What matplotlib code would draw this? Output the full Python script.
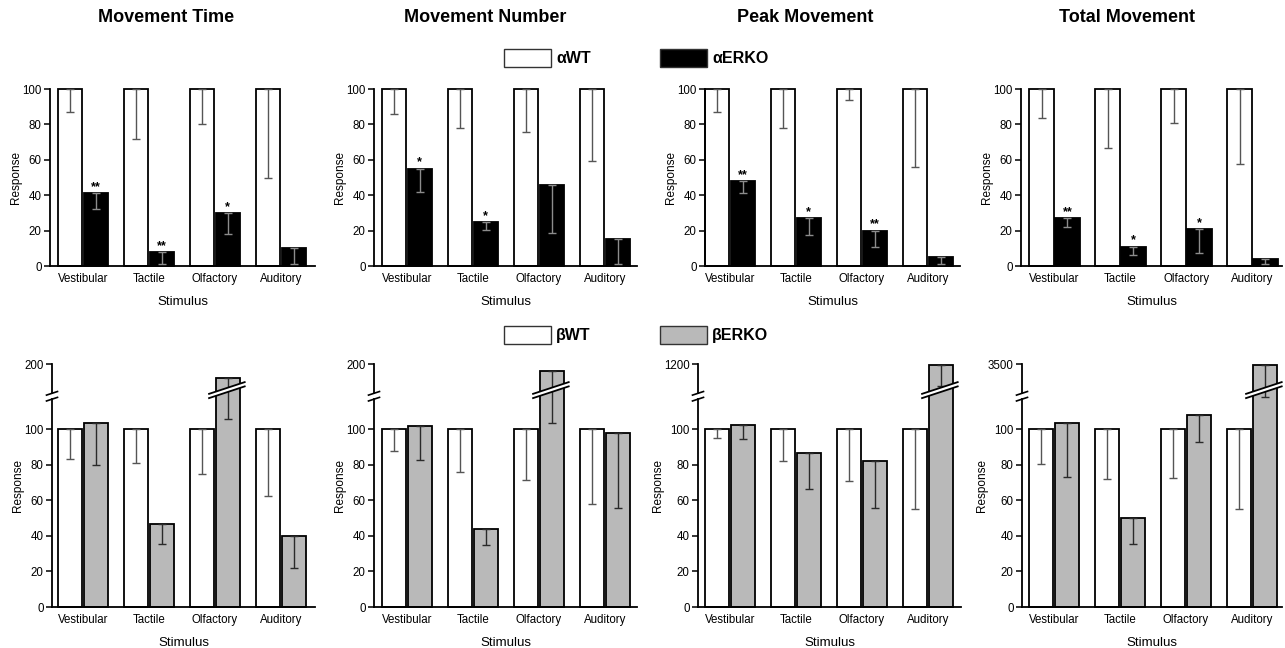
import numpy as np
import matplotlib
matplotlib.use("Agg")
import matplotlib.pyplot as plt
import matplotlib.transforms as mtransforms
from matplotlib.patches import Patch, Polygon

plt.rcParams['font.family'] = ['Liberation Sans', 'DejaVu Sans']

stimuli = ["Vestibular", "Tactile", "Olfactory", "Auditory"]
titles = ["Movement Time", "Movement Number", "Peak Movement", "Total Movement"]
wt_mean = [100, 100, 100, 100]

# alpha (top row): lower end of error bars, ERKO means, significance
a_wt_low = [[87, 71.5, 80.5, 50], [86, 78, 75.7, 59.3],
            [87.2, 78, 93.8, 56], [83.8, 66.9, 80.6, 57.4]]
a_ko = [[41, 8, 30, 10], [55, 25, 46, 15], [48, 27, 20, 5], [27, 11, 21, 4]]
a_ko_low = [[32, 1, 18, 1], [41.6, 20.2, 18.6, 1.1],
            [41.4, 17.7, 10.9, 1], [22.2, 6.2, 7.5, 1]]
a_stars = [["**", "**", "*", ""], ["*", "*", "", ""],
           ["**", "*", "**", ""], ["**", "*", "*", ""]]

# beta (bottom row), broken axis tops
b_wt_low = [[83.5, 81.2, 74.8, 62.4], [87.8, 76.1, 71.4, 57.9],
            [94.9, 82, 71, 54.9], [80.3, 71.8, 72.7, 55.1]]
b_ko = [[103.6, 46.5, 160, 40], [101.9, 43.8, 180, 97.7],
        [102.4, 86.8, 82.3, 1170], [103.8, 50.2, 108.1, 3400]]
b_ko_low = [[79.9, 35.7, 105.8, 22], [82.7, 34.8, 103.8, 55.8],
            [94.4, 66.2, 55.8, 370], [73.3, 35.7, 93, 118]]
b_top = [200, 200, 1200, 3500]

W, H = 1285, 648
fig = plt.figure(figsize=(W / 100, H / 100), dpi=100)

# pixel layout: spine left, axis right, first group centre
top_left = [50, 374, 705, 1021]
top_right = [315, 637, 960, 1282]
top_c0 = [83, 407, 730, 1054.5]
bot_left = [52, 374, 698, 1022]
bot_right = [315, 637, 961, 1282]
bot_c0 = [83, 407, 730, 1054]
spacing = 66.0

BRK = 121.0   # break start (display units)
TOPD = 136.8  # display units at top of broken axis

gray = '#b9b9b9'
bw = 0.37
off = 0.195
x = np.arange(4)


def make_axes(left, right, c0, y0, y1):
    ax = fig.add_axes([left / W, 1 - y0 / H, (right - left) / W, (y0 - y1) / H])
    ax.set_xlim((left - c0) / spacing, (right - c0) / spacing)
    for s in ['top', 'right']:
        ax.spines[s].set_visible(False)
    ax.spines['left'].set_linewidth(1.3)
    ax.spines['bottom'].set_linewidth(1.3)
    ax.set_xticks(x)
    ax.set_xticklabels(stimuli, fontsize=8.3)
    ax.tick_params(axis='x', length=0, pad=5)
    ax.tick_params(axis='y', length=4, width=1.1, labelsize=8.3, pad=2)
    ax.set_xlabel("Stimulus", fontsize=9.5, labelpad=8)
    ax.set_ylabel("Response", fontsize=8.5, labelpad=0)
    return ax


def draw_bars(ax, ko, ko_low, wt_low, ko_color, ko_err_color):
    ax.bar(x - off, wt_mean, bw, color='white', edgecolor='black', lw=1.3,
           clip_on=False, zorder=2)
    ax.bar(x + off, ko, bw, color=ko_color, edgecolor='black', lw=1.3,
           clip_on=False, zorder=2)
    ax.errorbar(x - off, wt_mean,
                yerr=[np.array(wt_mean) - np.array(wt_low), np.zeros(4)],
                fmt='none', ecolor='#555555', elinewidth=1.0, capsize=3.2,
                capthick=1.0, zorder=3, clip_on=False)
    ax.errorbar(x + off, ko,
                yerr=[np.array(ko) - np.array(ko_low), np.zeros(4)],
                fmt='none', ecolor=ko_err_color, elinewidth=1.0, capsize=3.2,
                capthick=1.0, zorder=3, clip_on=False)


# ---- top row (alpha)
for i in range(4):
    ax = make_axes(top_left[i], top_right[i], top_c0[i], 266, 89)
    ax.set_ylim(0, 100)
    ax.set_yticks([0, 20, 40, 60, 80, 100])
    draw_bars(ax, a_ko[i], a_ko_low[i], a_wt_low[i], 'black', '#8c8c8c')
    for j in range(4):
        if a_stars[i][j]:
            ax.annotate(a_stars[i][j], (x[j] + off, a_ko[i][j]), xytext=(0, 0),
                        textcoords='offset points', ha='center', va='bottom',
                        fontsize=9, fontweight='bold')


def make_scale(top):
    k = (TOPD - BRK) / (top - BRK)

    def fwd(v):
        v = np.asarray(v, dtype=float)
        return np.where(v <= BRK, v, BRK + (v - BRK) * k)

    def inv(d):
        d = np.asarray(d, dtype=float)
        return np.where(d <= BRK, d, BRK + (d - BRK) / k)
    return fwd, inv


# ---- bottom row (beta)
for i in range(4):
    y0, y1 = 607, 364
    ax = make_axes(bot_left[i], bot_right[i], bot_c0[i], y0, y1)
    fwd, inv = make_scale(b_top[i])
    ax.set_yscale('function', functions=(fwd, inv))
    ax.set_ylim(0, b_top[i])
    ax.set_yticks([0, 20, 40, 60, 80, 100, b_top[i]])
    ax.set_yticklabels(['0', '20', '40', '60', '80', '100', str(b_top[i])])
    ax.yaxis.set_minor_locator(matplotlib.ticker.NullLocator())
    draw_bars(ax, b_ko[i], b_ko_low[i], b_wt_low[i], gray, '#2a2a2a')

    # broken left spine
    ax.spines['left'].set_visible(False)
    axw = bot_right[i] - bot_left[i]
    axh = y0 - y1
    d_lo, d_hi = 117.0, 120.3
    ax.plot([0, 0], [0, d_lo / TOPD], transform=ax.transAxes, color='black',
            lw=1.3, clip_on=False, zorder=4)
    ax.plot([0, 0], [d_hi / TOPD, 1], transform=ax.transAxes, color='black',
            lw=1.3, clip_on=False, zorder=4)
    dx, dy = 5.5 / axw, 1.8 / axh
    for d in (d_lo, d_hi):
        ax.plot([-dx, dx], [d / TOPD - dy, d / TOPD + dy], transform=ax.transAxes,
                color='black', lw=1.2, clip_on=False, zorder=4)

    # break marks on tall bars
    trans = mtransforms.blended_transform_factory(ax.transData, ax.transAxes)
    for j in range(4):
        if b_ko[i][j] > BRK:
            xa = x[j] + off - bw / 2 - 0.1
            xb = x[j] + off + bw / 2 + 0.07
            lo = (117.6 / TOPD, 124.2 / TOPD)
            hi = (120.0 / TOPD, 126.6 / TOPD)
            poly = Polygon([[xa, lo[0]], [xb, lo[1]], [xb, hi[1]], [xa, hi[0]]],
                           closed=True, facecolor='white', edgecolor='none',
                           transform=trans, zorder=5, clip_on=False)
            ax.add_patch(poly)
            ax.plot([xa, xb], lo, transform=trans, color='black', lw=1.3,
                    zorder=6, clip_on=False)
            ax.plot([xa, xb], hi, transform=trans, color='black', lw=1.3,
                    zorder=6, clip_on=False)

# titles
title_x = [166, 485, 805, 1127]
for t, tx in zip(titles, title_x):
    fig.text(tx / W, 1 - 18 / H, t, ha='center', va='center', fontsize=13,
             fontweight='bold')

# legends
a_handles = [Patch(facecolor='white', edgecolor='#333333', lw=1.0),
             Patch(facecolor='black', edgecolor='#333333', lw=1.0)]
b_handles = [Patch(facecolor='white', edgecolor='#333333', lw=1.0),
             Patch(facecolor=gray, edgecolor='#333333', lw=1.0)]
for handles, labels, cy in [(a_handles, ["αWT", "αERKO"], 58),
                            (b_handles, ["βWT", "βERKO"], 335)]:
    fig.legend(handles, labels, loc='center', bbox_to_anchor=(636 / W, 1 - cy / H),
               ncol=2, frameon=False, handlelength=2.95, handleheight=1.37,
               handletextpad=0.35, columnspacing=4.3,
               prop={'size': 11.5, 'weight': 'bold'})

fig.savefig("out.png", dpi=100)
